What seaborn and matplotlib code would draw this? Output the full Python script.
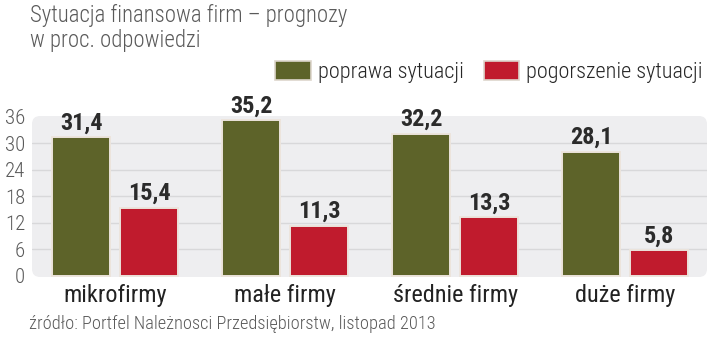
import matplotlib
matplotlib.use("Agg")
import matplotlib.pyplot as plt
from matplotlib.patches import FancyBboxPatch, Patch
from matplotlib import font_manager
import seaborn as sns
import pandas as pd

categories = ["mikrofirmy", "małe firmy", "średnie firmy", "duże firmy"]
series_names = ["poprawa sytuacji", "pogorszenie sytuacji"]
poprawa = [31.4, 35.2, 32.2, 28.1]
pogorszenie = [15.4, 11.3, 13.3, 5.8]
y_ticks = [0, 6, 12, 18, 24, 30, 36]

GREEN = "#5d6329"
RED = "#c01b2d"
GREY = "#5a5a5a"

installed = {f.name for f in font_manager.fontManager.ttflist}
narrow = [n for n in ["Roboto Condensed", "Liberation Sans Narrow", "DejaVu Sans"]
          if n in installed] or ["DejaVu Sans"]
FAM = narrow + ["DejaVu Sans"]

df = pd.DataFrame({
    "kategoria": categories * 2,
    "seria": [series_names[0]] * 4 + [series_names[1]] * 4,
    "wartosc": poprawa + pogorszenie,
})

sns.set_style("white")
plt.rcParams["font.family"] = FAM
plt.rcParams["font.stretch"] = "condensed"

fig = plt.figure(figsize=(7.2, 3.47), dpi=100)
ax = fig.add_axes([32 / 720, 1 - 277 / 347, 675 / 720, 161 / 347])
ax.set_facecolor("none")

# rounded light panel behind the bars
panel = FancyBboxPatch((0, 0), 1, 1, boxstyle="round,pad=0,rounding_size=0.012",
                       transform=ax.transAxes, facecolor="#eeeef0", edgecolor="none",
                       zorder=0, mutation_aspect=675 / 161)
ax.add_patch(panel)

sns.barplot(data=df, x="kategoria", y="wartosc", hue="seria", order=categories,
            hue_order=series_names, palette=[GREEN, RED], saturation=1, width=0.8, gap=0.15,
            edgecolor="#ece4dc", linewidth=1.4, ax=ax, legend=False, zorder=3)

for y in y_ticks[1:-1]:
    ax.axhline(y, color="#d8d8da", lw=1.0, zorder=1)

for cont in ax.containers:
    ax.bar_label(cont, labels=[f"{b.get_height():.1f}".replace(".", ",") for b in cont],
                 padding=2, fontsize=17.5, fontweight="bold", color="#2b2b2b",
                 fontstretch="condensed")

ax.set_xlim(-0.49, 3.48)
ax.set_ylim(-0.25, 36.2)
ax.set_yticks(y_ticks)
ax.set_yticklabels([str(v) for v in y_ticks], fontsize=15, color=GREY, fontweight="light")
ax.set_xticks(range(4))
ax.set_xticklabels(categories, fontsize=17.5, color="#222222")
ax.tick_params(axis="y", length=0, pad=5)
ax.tick_params(axis="x", length=0, pad=5)
ax.set_xlabel("")
ax.set_ylabel("")
for s in ax.spines.values():
    s.set_visible(False)

# legend
handles = [Patch(facecolor=GREEN, edgecolor="#ddd6cc", lw=1.2),
           Patch(facecolor=RED, edgecolor="#ddd6cc", lw=1.2)]
fig.legend(handles, series_names, loc="center right", bbox_to_anchor=(1.004, 1 - 72 / 347),
           ncol=2, frameon=False, handlelength=1.6, handleheight=0.9,
           handletextpad=0.32, columnspacing=0.9,
           prop={"family": FAM, "size": 16, "stretch": "condensed", "weight": "light"})

fig.text(30 / 720, 1 - 15 / 347, "Sytuacja finansowa firm – prognozy", fontsize=16.4,
         color=GREY, va="center", ha="left", fontweight="light")
fig.text(30 / 720, 1 - 41 / 347, "w proc. odpowiedzi", fontsize=16.4,
         color=GREY, va="center", ha="left", fontweight="light")
fig.text(29 / 720, 1 - 324 / 347, "źródło: Portfel Należnosci Przedsiębiorstw, listopad 2013",
         fontsize=13.2, color=GREY, va="center", ha="left", fontweight="light")

fig.savefig("out.png", dpi=100, facecolor="white")
